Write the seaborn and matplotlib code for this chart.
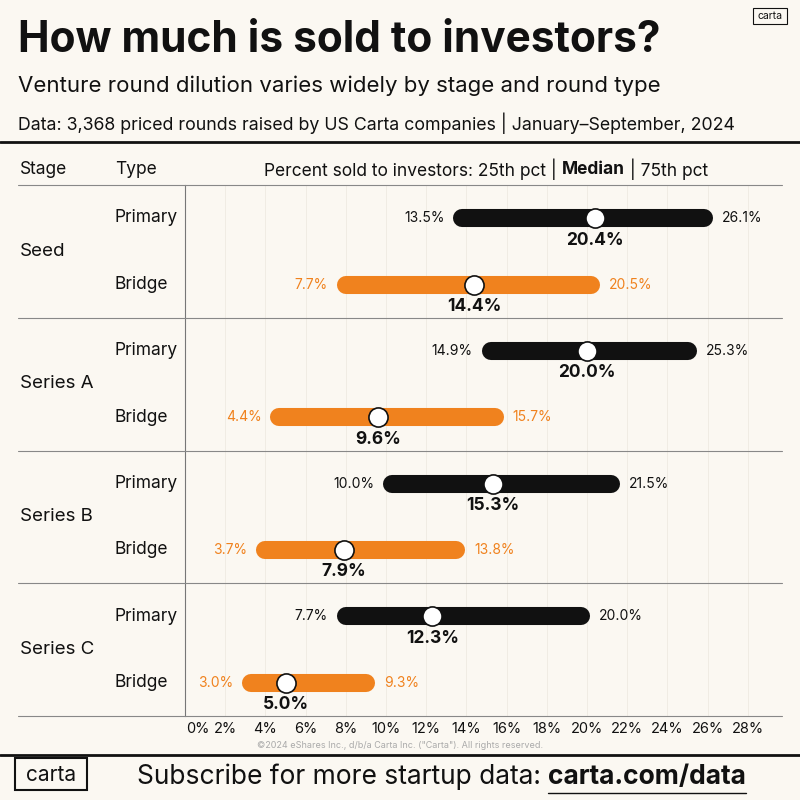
import matplotlib
matplotlib.use("Agg")
import matplotlib.pyplot as plt
import seaborn as sns
import pandas as pd
from matplotlib.patches import Rectangle

sns.set_theme(style="white")
plt.rcParams['font.family'] = ['Inter', 'DejaVu Sans']

stages = ["Seed", "Seed", "Series A", "Series A", "Series B", "Series B", "Series C", "Series C"]
types = ["Primary", "Bridge"] * 4
p25 = [13.5, 7.7, 14.9, 4.4, 10.0, 3.7, 7.7, 3.0]
median = [20.4, 14.4, 20.0, 9.6, 15.3, 7.9, 12.3, 5.0]
p75 = [26.1, 20.5, 25.3, 15.7, 21.5, 13.8, 20.0, 9.3]
ticks = list(range(0, 30, 2))

df = pd.DataFrame({"stage": stages, "type": types, "p25": p25, "median": median, "p75": p75})
df["row"] = range(len(df))

BG = "#FBF8F2"
ORANGE = "#F0821E"
BLACK = "#111111"
W, H = 800, 800
fig = plt.figure(figsize=(8, 8), dpi=100, facecolor=BG)

def fx(x): return x / W
def fy(y): return 1 - y / H

ax = fig.add_axes([fx(185), fy(716), (780 - 185) / W, (716 - 185) / H])
ax.set_facecolor(BG)
ax.set_xlim(0, (780 - 185) / 20.1)
ax.set_ylim(7.5, -0.5)
for t in ticks[1:]:
    ax.axvline(t, color="#EEEAE2", lw=0.6, zorder=0)
for i, r in df.iterrows():
    c = BLACK if r["type"] == "Primary" else ORANGE
    ax.plot([r.p25 + 0.3, r.p75 - 0.3], [r.row, r.row], color=c, lw=13, solid_capstyle="round", zorder=2)
    ax.text(r.p25 - 0.6, r.row, f"{r.p25:.1f}%", ha="right", va="center", fontsize=10, color=c)
    ax.text(r.p75 + 0.6, r.row, f"{r.p75:.1f}%", ha="left", va="center", fontsize=10, color=c)
    ax.text(r["median"], r.row + 0.33, f"{r['median']:.1f}%", ha="center", va="center",
            fontsize=12.5, fontweight="bold", color=BLACK)
sns.scatterplot(data=df, x="median", y="row", ax=ax, s=190, color="white",
                edgecolor=BLACK, linewidth=1.2, zorder=3, legend=False)
ax.set_xticks([]); ax.set_yticks([])
ax.set_xlabel(""); ax.set_ylabel("")
for s in ax.spines.values():
    s.set_visible(False)
ax.spines["left"].set_visible(True)
ax.spines["left"].set_color("#777777")
ax.spines["left"].set_linewidth(0.8)

def hline(y, x0=18, x1=782, color="#888888", lw=0.8):
    fig.add_artist(plt.Line2D([fx(x0), fx(x1)], [fy(y), fy(y)], color=color, lw=lw))
hline(185)
for y in [318, 451, 583, 716]:
    hline(y)
hline(142, 0, 800, BLACK, 2)
hline(755, 0, 800, BLACK, 2)

for t in ticks:
    x = 185 + t * 20.1
    if t == 0:
        x = 198
    fig.text(fx(x), fy(729), f"{t}%", ha="center", va="center", fontsize=10.5, color=BLACK)
fig.text(fx(400), fy(746), "©2024 eShares Inc., d/b/a Carta Inc. (\"Carta\"). All rights reserved.",
         ha="center", va="center", fontsize=6.5, color="#AAAAAA")

for i, r in df.iterrows():
    y = 218 + i * 66.4
    fig.text(fx(115), fy(y), r["type"], ha="left", va="center", fontsize=12.5, color=BLACK)
    if r["type"] == "Primary":
        fig.text(fx(20), fy(y + 33), r["stage"], ha="left", va="center", fontsize=13.5, color=BLACK)

fig.text(fx(20), fy(169), "Stage", ha="left", va="center", fontsize=12.5, color=BLACK)
fig.text(fx(115), fy(169), "Type", ha="left", va="center", fontsize=12.5, color=BLACK)

# header in pieces placed via measured widths
renderer = fig.canvas.get_renderer()
parts = [("Percent sold to investors: 25th pct | ", "normal"), ("Median", "bold"), (" | 75th pct", "normal")]
objs = [fig.text(0, fy(169), p, ha="left", va="center", fontsize=12.5, fontweight=w, color=BLACK) for p, w in parts]
widths = [o.get_window_extent(renderer).width for o in objs]
x = 486 - sum(widths) / 2
for o, w in zip(objs, widths):
    o.set_x(fx(x)); x += w

fig.text(fx(18), fy(40), "How much is sold to investors?", ha="left", va="center",
         fontsize=30.5, fontweight="bold", color=BLACK)
fig.text(fx(18), fy(86), "Venture round dilution varies widely by stage and round type",
         ha="left", va="center", fontsize=16, color=BLACK)
fig.text(fx(18), fy(123), "Data: 3,368 priced rounds raised by US Carta companies | January–September, 2024",
         ha="left", va="center", fontsize=12.8, color=BLACK)

fig.add_artist(Rectangle((fx(753), fy(24)), 34 / W, 16 / H, fill=False, ec=BLACK, lw=0.8))
fig.text(fx(770), fy(16), "carta", ha="center", va="center", fontsize=7.5, color=BLACK)
fig.add_artist(Rectangle((fx(15), fy(790)), 72 / W, 32 / H, fill=False, ec=BLACK, lw=1.5))
fig.text(fx(51), fy(775), "carta", ha="center", va="center", fontsize=15, color=BLACK)
fig.text(fx(137), fy(777), "Subscribe for more startup data: ", ha="left", va="center", fontsize=19, color=BLACK)
fig.text(fx(746), fy(777), "carta.com/data", ha="right", va="center", fontsize=19, fontweight="bold", color=BLACK)
hline(793, 548, 746, BLACK, 1)

fig.savefig("out.png", dpi=100, facecolor=BG)
